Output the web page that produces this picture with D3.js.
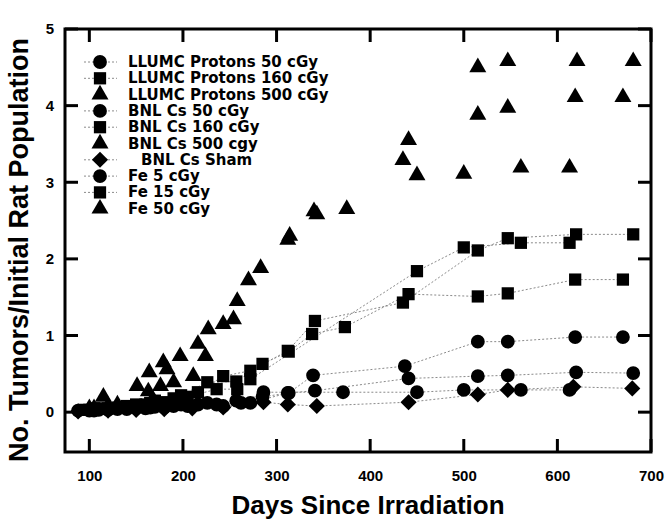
<!DOCTYPE html>
<html>
<head>
<meta charset="utf-8">
<script src="https://cdn.jsdelivr.net/npm/d3@7"></script>
<style>
  body { margin: 0; background: #fff; }
  text { fill: #000; }
</style>
</head>
<body>
<div class="chart-container"></div>
<script>
// --- Data (day, tumors per initial rat) ---
const llumc50 = [[100,0.02],[120,0.03],[150,0.05],[170,0.07],[198,0.1],[226,0.12],[257,0.15],[285,0.2],[313,0.25],[339,0.48],[437,0.6],[515,0.92],[547,0.92],[619,0.98],[670,0.98]];
const llumc160 = [[100,0.03],[120,0.05],[150,0.1],[170,0.15],[198,0.22],[226,0.39],[257,0.4],[285,0.63],[313,0.79],[338,1.02],[373,1.11],[441,1.54],[515,1.51],[547,1.55],[619,1.73],[670,1.73]];
const llumc500 = [[100,0.05],[115,0.2],[151,0.34],[176,0.34],[197,0.73],[216,0.89],[243,1.15],[258,1.45],[283,1.88],[314,2.3],[340,2.62],[375,2.65],[441,3.55],[515,3.88],[547,3.97],[619,4.11],[670,4.11]];
const bnl50 = [[88,0.02],[110,0.03],[140,0.04],[165,0.06],[190,0.08],[216,0.1],[243,0.08],[272,0.12],[312,0.25],[341,0.28],[441,0.44],[515,0.47],[547,0.48],[620,0.52],[681,0.51]];
const bnl160 = [[95,0.03],[110,0.05],[140,0.08],[165,0.12],[190,0.18],[216,0.26],[243,0.47],[272,0.54],[312,0.8],[341,1.19],[435,1.43],[515,2.11],[547,2.27],[620,2.32],[681,2.32]];
const bnl500 = [[105,0.05],[130,0.1],[164,0.52],[183,0.56],[227,1.08],[254,1.21],[270,1.72],[312,2.25],[343,2.58],[435,3.29],[515,4.5],[547,4.58],[621,4.58],[681,4.58]];
const bnlSham = [[88,0.01],[120,0.02],[150,0.03],[180,0.04],[210,0.05],[243,0.06],[286,0.13],[312,0.1],[343,0.08],[441,0.13],[515,0.23],[547,0.29],[617,0.33],[680,0.31]];
const fe5 = [[105,0.02],[130,0.04],[160,0.05],[180,0.06],[205,0.08],[236,0.1],[262,0.12],[286,0.26],[371,0.26],[450,0.26],[500,0.29],[561,0.29],[613,0.29]];
const fe15 = [[105,0.05],[130,0.06],[160,0.1],[180,0.13],[205,0.2],[236,0.3],[258,0.3],[272,0.43],[450,1.84],[500,2.15],[561,2.21],[613,2.21]];
const fe50 = [[120,0.08],[163,0.27],[179,0.65],[190,0.39],[211,0.47],[224,0.73],[450,3.09],[500,3.11],[561,3.19],[613,3.19]];

const seriesNames = ["LLUMC Protons 50 cGy", "LLUMC Protons 160 cGy", "LLUMC Protons 500 cGy",
  "BNL Cs 50 cGy", "BNL Cs 160 cGy", "BNL Cs 500 cgy", "BNL Cs Sham",
  "Fe 5 cGy", "Fe 15 cGy", "Fe 50 cGy"];
const seriesData = [llumc50, llumc160, llumc500, bnl50, bnl160, bnl500, bnlSham, fe5, fe15, fe50];
const seriesShapes = ["circle", "square", "triangle", "circle", "square", "triangle", "diamond", "circle", "square", "triangle"];

const xTicks = [100, 200, 300, 400, 500, 600, 700];
const yTicks = [0, 1, 2, 3, 4, 5];

// --- Layout ---
const w = 667;
const h = 524;
const plotLeft = 65, plotRight = 651, plotTop = 29, plotBottom = 452;
const tickLen = 13;

const svg = d3.select(".chart-container")
    .append("svg")
    .attr("width", w)
    .attr("height", h);

const x = d3.scaleLinear().domain([74, 700]).range([plotLeft, plotRight]);
const y = d3.scaleLinear().domain([-0.52, 5]).range([plotBottom, plotTop]);

// symbol helpers
const symbolFor = {
    circle: d3.symbol().type(d3.symbolCircle).size(150),
    square: d3.symbol().type(d3.symbolSquare).size(150),
    triangle: d3.symbol().type(d3.symbolTriangle).size(125),
    diamond: d3.symbol().type(d3.symbolSquare).size(130)
};
function markerTransform(shape, px, py) {
    return shape === "diamond"
        ? "translate(" + px + "," + py + ") rotate(45)"
        : "translate(" + px + "," + py + ")";
}

// --- Dotted connecting lines (not for triangles) ---
const line = d3.line().x(d => x(d[0])).y(d => y(d[1]));
seriesData.forEach(function (data, i) {
    if (seriesShapes[i] === "triangle") return;
    svg.append("path")
        .attr("d", line(data))
        .attr("fill", "none")
        .attr("stroke", "#8a8a8a")
        .attr("stroke-width", 1)
        .attr("stroke-dasharray", "2,2");
});

// --- Markers ---
seriesData.forEach(function (data, i) {
    const shape = seriesShapes[i];
    svg.append("g").selectAll("path")
        .data(data)
        .enter()
        .append("path")
        .attr("d", symbolFor[shape])
        .attr("transform", d => markerTransform(shape, x(d[0]), y(d[1])))
        .attr("fill", "#000");
});

// --- Axis labels ---
const labelStyle = function (g) {
    g.select(".domain").remove();
    g.selectAll(".tick line").remove();
    g.selectAll(".tick text")
        .attr("font-family", "'Liberation Sans', Arial, sans-serif")
        .attr("font-weight", "bold")
        .attr("font-size", "15px")
        .attr("fill", "#000");
};

svg.append("g")
    .attr("transform", "translate(0," + plotBottom + ")")
    .call(d3.axisBottom(x).tickValues(xTicks).tickSize(0).tickPadding(18))
    .call(labelStyle);

svg.append("g")
    .attr("transform", "translate(" + plotLeft + ",0)")
    .call(d3.axisLeft(y).tickValues(yTicks).tickSize(0).tickPadding(11).tickFormat(d3.format("d")))
    .call(labelStyle);

// --- Inward ticks on all four sides ---
const ticks = svg.append("g").attr("stroke", "#000").attr("stroke-width", 3);
xTicks.forEach(function (t) {
    ticks.append("line")
        .attr("x1", x(t)).attr("x2", x(t))
        .attr("y1", plotBottom).attr("y2", plotBottom - tickLen);
    ticks.append("line")
        .attr("x1", x(t)).attr("x2", x(t))
        .attr("y1", plotTop).attr("y2", plotTop + tickLen);
});
yTicks.forEach(function (t) {
    ticks.append("line")
        .attr("x1", plotLeft).attr("x2", plotLeft + tickLen)
        .attr("y1", y(t)).attr("y2", y(t));
    ticks.append("line")
        .attr("x1", plotRight).attr("x2", plotRight - tickLen)
        .attr("y1", y(t)).attr("y2", y(t));
});

// frame
svg.append("rect")
    .attr("x", plotLeft)
    .attr("y", plotTop)
    .attr("width", plotRight - plotLeft)
    .attr("height", plotBottom - plotTop)
    .attr("fill", "none")
    .attr("stroke", "#000")
    .attr("stroke-width", 3);

// --- Axis titles ---
svg.append("text")
    .text("Days Since Irradiation")
    .attr("x", 368)
    .attr("y", 514)
    .attr("text-anchor", "middle")
    .attr("font-family", "'Liberation Sans', Arial, sans-serif")
    .attr("font-weight", "bold")
    .attr("font-size", "26px");

svg.append("text")
    .text("No. Tumors/Initial Rat Population")
    .attr("transform", "translate(28," + 250 + ") rotate(-90)")
    .attr("text-anchor", "middle")
    .attr("font-family", "'Liberation Sans', Arial, sans-serif")
    .attr("font-weight", "bold")
    .attr("font-size", "27px");

// --- Legend ---
const legend = svg.append("g");
seriesNames.forEach(function (name, i) {
    const ly = 62 + i * 16.3;
    const shape = seriesShapes[i];
    if (shape !== "triangle") {
        legend.append("line")
            .attr("x1", 84).attr("x2", 117)
            .attr("y1", ly).attr("y2", ly)
            .attr("stroke", "#8a8a8a")
            .attr("stroke-width", 1)
            .attr("stroke-dasharray", "2,2");
    }
    legend.append("path")
        .attr("d", symbolFor[shape])
        .attr("transform", markerTransform(shape, 100, ly))
        .attr("fill", "#000");
    legend.append("text")
        .text(name)
        .attr("x", shape === "diamond" ? 141 : 128)
        .attr("y", ly + 5)
        .attr("font-family", "'DejaVu Sans', sans-serif")
        .attr("font-weight", "bold")
        .attr("font-size", "15px");
});
</script>
</body>
</html>
